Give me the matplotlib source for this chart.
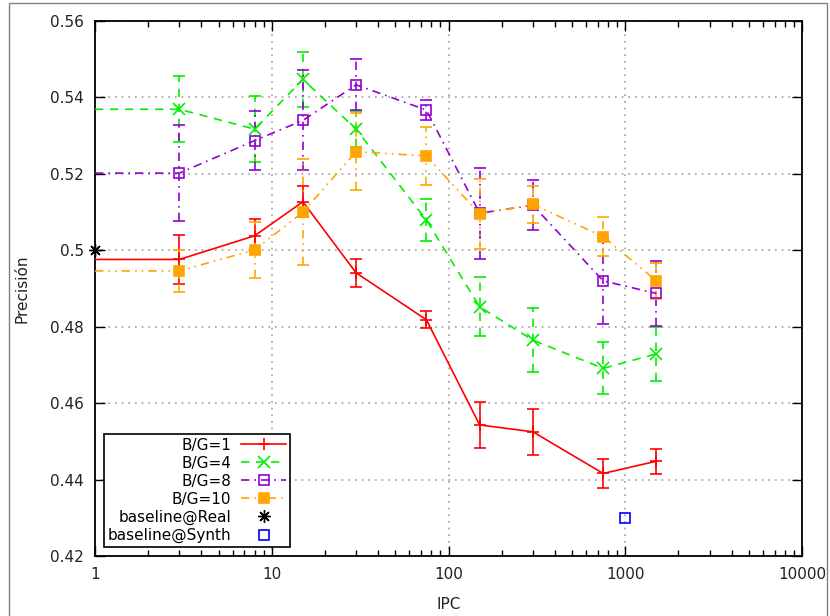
import matplotlib
matplotlib.use('Agg')
import matplotlib.pyplot as plt
import matplotlib.patches as patches
from matplotlib.ticker import LogLocator, FixedLocator, FuncFormatter, NullFormatter

matplotlib.rcParams.update({'font.size': 11, 'font.family': 'DejaVu Sans'})

# data
ipc = [1, 3, 8, 15, 30, 75, 150, 300, 750, 1500]
bg1 = [0.4976, 0.4976, 0.5038, 0.5127, 0.4941, 0.4818, 0.4543, 0.4525, 0.4416, 0.4448]
bg1_err = [0, 0.0064, 0.0043, 0.0040, 0.0036, 0.0022, 0.0060, 0.0060, 0.0037, 0.0033]
bg4 = [0.5369, 0.5369, 0.5317, 0.5447, 0.5317, 0.5079, 0.4852, 0.4765, 0.4691, 0.4729]
bg4_err = [0, 0.0086, 0.0087, 0.0073, 0.0048, 0.0055, 0.0077, 0.0084, 0.0068, 0.0070]
bg8 = [0.5202, 0.5202, 0.5287, 0.5340, 0.5433, 0.5367, 0.5097, 0.5118, 0.4920, 0.4887]
bg8_err = [0, 0.0125, 0.0077, 0.0131, 0.0067, 0.0025, 0.0119, 0.0066, 0.0113, 0.0085]
bg10 = [0.4946, 0.4946, 0.5001, 0.5100, 0.5258, 0.5247, 0.5095, 0.5120, 0.5036, 0.4920]
bg10_err = [0, 0.0056, 0.0074, 0.0139, 0.0100, 0.0076, 0.0091, 0.0048, 0.0052, 0.0047]

base_real_x = [1]
base_real_y = [0.50]
base_synth_x = [1000]
base_synth_y = [0.43]

series = [
    ('B/G=1', bg1, bg1_err, '#ff0000', '-', '+', 'full'),
    ('B/G=4', bg4, bg4_err, '#00f000', (0, (5, 4)), 'x', 'full'),
    ('B/G=8', bg8, bg8_err, '#9400d3', (0, (5, 3, 1, 3)), 's', 'none'),
    ('B/G=10', bg10, bg10_err, '#ffa500', (0, (5, 3, 1, 3, 1, 3)), 's', 'full'),
]

fig = plt.figure(figsize=(8.3, 6.16), dpi=100)
ax = fig.add_axes([0.1145, 0.0974, 0.8518, 0.8685])

handles = []
for label, vals, err, col, ls, mk, fill in series:
    msize = 7 if mk in ('s',) else 8
    line, = ax.plot(ipc, vals, color=col, linestyle=ls, linewidth=1.2,
                    marker=mk, markersize=msize, fillstyle=fill,
                    markeredgewidth=1.2, markevery=list(range(1, len(ipc))),
                    label=label, zorder=3)
    eb = ax.errorbar(ipc[1:], vals[1:], yerr=err[1:], fmt='none', ecolor=col,
                     elinewidth=1.2, capsize=4, capthick=1.2, zorder=2)
    eb[2][0].set_linestyle(ls)
    handles.append(line)

h_real, = ax.plot(base_real_x, base_real_y, linestyle='none', marker=(8, 2, 0),
                  markersize=9, color='black', markeredgewidth=1.0,
                  clip_on=False, label='baseline@Real', zorder=4)
h_synth, = ax.plot(base_synth_x, base_synth_y, linestyle='none', marker='s',
                   markersize=7, fillstyle='none', color='#0000ff',
                   markeredgewidth=1.2, label='baseline@Synth', zorder=4)
handles += [h_real, h_synth]

ax.set_xscale('log')
ax.set_xlim(1, 10000)
ax.set_ylim(0.42, 0.56)
ax.xaxis.set_major_locator(FixedLocator([1, 10, 100, 1000, 10000]))
ax.xaxis.set_major_formatter(FuncFormatter(lambda v, p: '%d' % v))
ax.xaxis.set_minor_locator(LogLocator(base=10, subs=range(2, 10)))
ax.xaxis.set_minor_formatter(NullFormatter())
ax.yaxis.set_major_locator(FixedLocator([0.42, 0.44, 0.46, 0.48, 0.50, 0.52, 0.54, 0.56]))
ax.yaxis.set_major_formatter(FuncFormatter(lambda v, p: '0.5' if abs(v - 0.5) < 1e-9 else '%.2f' % v))

ax.tick_params(which='both', direction='in', top=True, right=True, colors='black')
ax.tick_params(which='major', length=7, width=1, pad=8, labelcolor='#222222')
ax.tick_params(which='minor', length=4, width=1)
for s in ax.spines.values():
    s.set_linewidth(1.3)
    s.set_color('black')

ax.grid(True, which='major', color='#a0a0a0', linestyle=(0, (1, 3)), linewidth=1.2)
ax.set_axisbelow(True)

ax.set_xlabel('IPC', labelpad=11, color='#222222')
ax.set_ylabel('Precisión', labelpad=15, color='#222222')

leg = ax.legend(handles=handles, loc='lower left', bbox_to_anchor=(0.0127, 0.0168),
                borderaxespad=0, markerfirst=False, numpoints=1, handlelength=3.0,
                handletextpad=0.6, labelspacing=0.2, borderpad=0.25,
                fancybox=False, framealpha=1, edgecolor='black')
leg.get_frame().set_linewidth(1.2)

# outer frame of the picture
fig.add_artist(patches.Rectangle((9 / 830, -0.01), (827 - 9) / 830, 1 - 3 / 616 + 0.01,
                                 transform=fig.transFigure, fill=False,
                                 edgecolor='#808080', linewidth=1))

fig.savefig('out.png', dpi=100)
